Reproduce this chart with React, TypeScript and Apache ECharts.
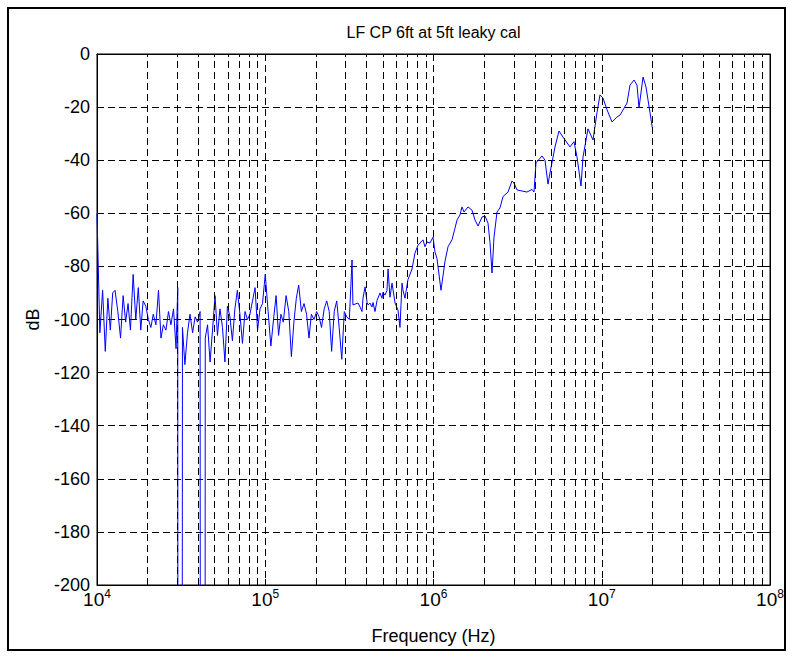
import React, { useEffect, useRef } from 'react';
import * as echarts from 'echarts';

const FONT = '"Liberation Sans", Arial, Helvetica, sans-serif';

const titleText = 'LF CP 6ft at 5ft leaky cal';
const xAxisName = 'Frequency (Hz)';
const yAxisName = 'dB';

// Low band (10 kHz – 330 kHz): noise floor, frequencies in kHz
const noiseFreqKHz = [
  10, 10.4, 10.8, 11.2, 11.6, 12, 12.4, 12.8, 13.3, 13.8, 14.3, 14.8, 15.3, 15.8, 16.4, 17, 17.6, 18.2,
  18.8, 19.5, 20.2, 20.9, 21.6, 22.4, 23.2, 24, 24.8, 25.7, 26.6, 27.5, 28.5, 29.5, 30.2, 30.9, 32.2,
  33.3, 34.5, 35.7, 37, 38.3, 39.6, 41, 42.6, 44, 45.4, 47, 48.6, 50.3, 52, 53.8, 55.7, 57.6, 59.6,
  61.7, 63.8, 66, 68.3, 70.7, 73.2, 75.8, 78.4, 81.1, 84, 87, 90, 93.1, 96.3, 100, 104, 108, 112, 116,
  120, 124, 128, 133, 138, 143, 148, 153, 158, 164, 170, 176, 182, 188, 195, 202, 209, 216, 224, 232,
  240, 248, 257, 266, 275, 285, 295, 305, 316, 328,
];
const noiseDb = [
  -60, -105, -89, -112, -92, -104, -90, -89, -97, -107, -91, -101, -94, -104, -83, -100, -88, -104,
  -93, -95, -100, -103, -98, -102, -89, -107, -102, -104, -97, -102, -96, -111, -88, -2000, -103,
  -117, -105, -98, -105, -99, -101, -97, -2000, -107, -102, -116, -104, -91, -106, -96, -103, -116, -95,
  -99, -108, -96, -89, -98, -109, -97, -100, -98, -93, -88, -104, -96, -94, -83, -97, -110, -100, -91,
  -106, -98, -101, -91, -97, -114, -101, -92, -87, -97, -94, -98, -107, -98, -100, -97, -99, -103, -96, -93,
  -97, -112, -97, -93, -103, -115, -97, -99, -100, -77.6,
];

// High band (330 kHz – 20 MHz): frequencies in Hz
const sweepFreqHz = [
  332000, 356000, 366000, 376000, 381000, 392000, 403000, 408000, 419000, 431000, 437000, 449000,
  462000, 481000, 494000, 501000, 515000, 529000, 537000, 551000, 567000, 591000, 615000, 632000,
  650000, 659000, 677000, 705000, 745000, 776000, 809000, 866000, 890000, 915000, 953000, 993000,
  1021000, 1049000, 1108000, 1171000, 1220000, 1288000, 1342000, 1380000, 1437000, 1477000, 1518000,
  1604000, 1693000, 1765000, 1839000, 1942000, 2024000, 2109000, 2167000, 2227000, 2289000, 2385000,
  2484000, 2589000, 2773000, 2929000, 3010000, 3136000, 3357000, 3594000, 3849000, 3956000, 4066000,
  4415000, 4600000, 4792000, 4925000, 5274000, 5571000, 5884000, 6475000, 6840000, 7127000, 7528000,
  7737000, 8284000, 8872000, 9371000, 9763000, 10170000, 10750000, 11510000, 12320000, 12840000,
  14130000, 14720000, 15550000, 16200000, 16650000, 17590000, 18320000, 20000000,
];
const sweepDb = [
  -94.5, -93.8, -95.3, -97, -92, -87.7, -93.6, -94.5, -93.8, -95.3, -93.6, -97,
  -92.8, -90, -92, -89.8, -90.8, -89, -81, -91.6, -86.3, -93.8, -96.4, -103,
  -86.3, -89, -92, -85, -81, -75, -72, -70, -72.6, -70.8, -71.2, -69,
  -74.6, -77, -89, -78, -72.6, -70, -65.6, -62.5, -60.6, -57.6, -59.5,
  -57.6, -58.8, -62.5, -64.8, -61.4, -61, -63.7, -71, -82.5, -69, -59.5,
  -58, -53.7, -52, -47.8, -48.6, -51.2, -51.6, -52, -51, -52, -41,
  -38.4, -40, -49, -44.8, -35, -29, -31.3, -35, -33, -38.8, -49.7,
  -38.8, -28.2, -32.4, -22, -15.4, -16.6, -21, -25.6, -23.7, -23,
  -18.5, -11.7, -9.8, -11.7, -20.3, -8.7, -12.4, -27.9,
];

// Axis setup
const freqMin = 1e4;
const freqMax = 1e8;
const dbMin = -200;
const dbMax = 0;
const dbStep = 20;
const decades = [1e4, 1e5, 1e6, 1e7];
const minorMultipliers = [2, 3, 4, 5, 6, 7, 8, 9];

const gridDash = [7, 4];

export default function App() {
  const ref = useRef<HTMLDivElement>(null);

  useEffect(() => {
    if (!ref.current) return;
    const chart = echarts.init(ref.current, null, { renderer: 'svg' });

    const trace: [number, number][] = [
      ...noiseFreqKHz.map((f, i) => [f * 1000, noiseDb[i]] as [number, number]),
      ...sweepFreqHz.map((f, i) => [f, sweepDb[i]] as [number, number]),
    ];

    const minorLines = decades.flatMap((d) => minorMultipliers.map((m) => ({ xAxis: d * m })));

    const tickText = { fontFamily: FONT, color: '#000' };

    const option: any = {
      animation: false,
      backgroundColor: '#ffffff',
      grid: {
        left: 97,
        top: 54,
        width: 673,
        height: 531,
        show: true,
        borderColor: '#000',
        borderWidth: 1,
        backgroundColor: 'transparent',
      },
      graphic: [
        {
          type: 'rect',
          shape: { x: 8, y: 8, width: 777, height: 642 },
          style: { fill: 'none', stroke: '#000', lineWidth: 2 },
          silent: true,
        },
        {
          type: 'text',
          x: 433.5,
          y: 32,
          style: {
            text: titleText,
            font: `16px ${FONT}`,
            fill: '#000',
            textAlign: 'center',
            textVerticalAlign: 'middle',
          },
          silent: true,
        },
      ],
      xAxis: [
        {
          type: 'log',
          logBase: 10,
          min: freqMin,
          max: freqMax,
          axisLine: { show: true, onZero: false, lineStyle: { color: '#000', width: 1 } },
          axisTick: { show: true, inside: true, length: 6, lineStyle: { color: '#000' } },
          axisLabel: {
            margin: 3,
            formatter: (v: number) => `{b|10}{s|${Math.round(Math.log10(v))}}`,
            rich: {
              b: { ...tickText, fontSize: 19, lineHeight: 21, verticalAlign: 'bottom' },
              s: { ...tickText, fontSize: 12, lineHeight: 13, verticalAlign: 'top' },
            },
          },
          splitLine: { show: true, lineStyle: { type: gridDash, color: '#000', width: 1 } },
          name: xAxisName,
          nameLocation: 'middle',
          nameGap: 42,
          nameTextStyle: { ...tickText, fontSize: 18 },
        },
        {
          type: 'log',
          logBase: 10,
          min: freqMin,
          max: freqMax,
          position: 'top',
          axisLine: { show: true, onZero: false, lineStyle: { color: '#000', width: 1 } },
          axisTick: { show: true, inside: true, length: 6, lineStyle: { color: '#000' } },
          axisLabel: { show: false },
          splitLine: { show: false },
        },
      ],
      yAxis: [
        {
          type: 'value',
          min: dbMin,
          max: dbMax,
          interval: dbStep,
          axisLine: { show: true, onZero: false, lineStyle: { color: '#000', width: 1 } },
          axisTick: { show: true, inside: true, length: 6, lineStyle: { color: '#000' } },
          axisLabel: { ...tickText, fontSize: 18, margin: 7 },
          splitLine: { show: true, lineStyle: { type: gridDash, color: '#000', width: 1 } },
          name: yAxisName,
          nameLocation: 'middle',
          nameGap: 55,
          nameTextStyle: { ...tickText, fontSize: 18 },
        },
        {
          type: 'value',
          min: dbMin,
          max: dbMax,
          interval: dbStep,
          position: 'right',
          axisLine: { show: true, onZero: false, lineStyle: { color: '#000', width: 1 } },
          axisTick: { show: true, inside: true, length: 6, lineStyle: { color: '#000' } },
          axisLabel: { show: false },
          splitLine: { show: false },
        },
      ],
      series: [
        {
          name: 'minor grid',
          type: 'line',
          data: [],
          z: 1,
          silent: true,
          markLine: {
            silent: true,
            symbol: ['none', 'none'],
            label: { show: false },
            lineStyle: { type: gridDash, color: '#000', width: 1 },
            emphasis: { disabled: true },
            data: minorLines,
          },
        },
        {
          name: 'LF CP',
          type: 'line',
          data: trace,
          symbol: 'none',
          clip: true,
          z: 3,
          lineStyle: { color: '#0000ff', width: 1 },
        },
      ],
    };

    chart.setOption(option);
    return () => chart.dispose();
  }, []);

  return (
    <div
      ref={ref}
      style={{ position: 'fixed', left: 0, top: 0, width: 793, height: 658, background: '#fff' }}
    />
  );
}
